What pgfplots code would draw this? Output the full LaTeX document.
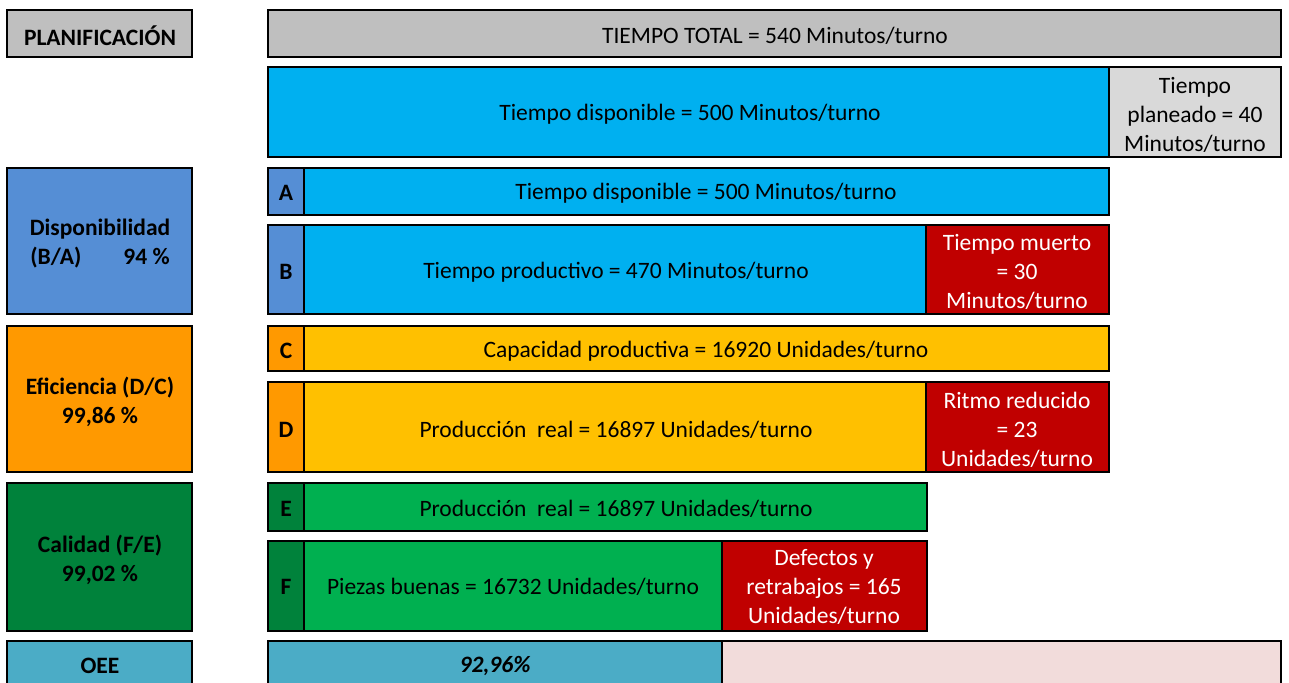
\documentclass[border=0pt]{standalone}
\usepackage{pgfplots}
\pgfplotsset{compat=1.18}
\usepackage{fontspec}
\setmainfont{Carlito}

\definecolor{grisA}{HTML}{BFBFBF}
\definecolor{grisB}{HTML}{D9D9D9}
\definecolor{celeste}{HTML}{00B0F0}
\definecolor{azulD}{HTML}{558ED5}
\definecolor{rojo}{HTML}{C00000}
\definecolor{naranja}{HTML}{FF9900}
\definecolor{ambar}{HTML}{FFC000}
\definecolor{verdeO}{HTML}{00823B}
\definecolor{verde}{HTML}{00B050}
\definecolor{oee}{HTML}{4BACC6}
\definecolor{rosa}{HTML}{F2DCDB}

\tikzset{
  t/.style={font=\fontsize{23.5}{29}\selectfont, align=center, inner sep=0pt, yshift=-2pt},
  tb/.style={t, font=\fontsize{23.5}{29}\selectfont\bfseries},
}

% caja: x1, y1, x2, y2, relleno
\newcommand{\caja}[5]{%
  \addplot[fill=#5, draw=black, line width=2.6pt, line join=miter]
    coordinates {(#1,#2) (#3,#2) (#3,#4) (#1,#4)} -- cycle;}

\begin{document}
\begin{tikzpicture}
\begin{axis}[
    scale only axis, width=1289pt, height=682pt,
    xmin=0, xmax=1289, ymin=0, ymax=682, y dir=reverse,
    hide axis, clip=true
]
% planificacion
\caja{7}{10}{192}{57}{grisA}
\caja{268}{10}{1281}{57}{grisA}
\caja{268}{67}{1109}{157}{celeste}
\caja{1109}{67}{1281}{157}{grisB}
% disponibilidad
\caja{7}{168}{192}{314}{azulD}
\caja{304}{168}{1109}{215}{celeste}
\caja{268}{168}{304}{215}{azulD}
\caja{304}{225}{926}{314}{celeste}
\caja{926}{225}{1109}{314}{rojo}
\caja{268}{225}{304}{314}{azulD}
% eficiencia
\caja{7}{326}{192}{472}{naranja}
\caja{304}{326}{1109}{371}{ambar}
\caja{268}{326}{304}{371}{naranja}
\caja{304}{382}{926}{472}{ambar}
\caja{926}{382}{1109}{472}{rojo}
\caja{268}{382}{304}{472}{naranja}
% calidad
\caja{7}{483}{192}{631}{verdeO}
\caja{304}{483}{927}{531}{verde}
\caja{268}{483}{304}{531}{verdeO}
\caja{304}{541}{722}{631}{verde}
\caja{722}{541}{927}{631}{rojo}
\caja{268}{541}{304}{631}{verdeO}
% OEE
\caja{7}{641}{192}{700}{oee}
\caja{722}{641}{1281}{700}{rosa}
\caja{268}{641}{722}{700}{oee}
\addplot[draw=black, line width=2.6pt, line join=miter]
  coordinates {(268,641) (1281,641) (1281,700)};

% textos
\node[tb] at (axis cs:100,34) {PLANIFICACIÓN};
\node[t] at (axis cs:775,34) {TIEMPO TOTAL = 540 Minutos/turno};
\node[t] at (axis cs:690,112) {Tiempo disponible = 500 Minutos/turno};
\node[t] at (axis cs:1195,113) {Tiempo\\planeado = 40\\Minutos/turno};

\node[tb] at (axis cs:100,242) {Disponibilidad\\(B/A)\hspace{42pt}94 \%};
\node[tb] at (axis cs:286,191) {A};
\node[t] at (axis cs:706,191) {Tiempo disponible = 500 Minutos/turno};
\node[tb] at (axis cs:286,270) {B};
\node[t] at (axis cs:616,270) {Tiempo productivo = 470 Minutos/turno};
\node[t, text=white] at (axis cs:1017,270) {Tiempo muerto\\= 30\\Minutos/turno};

\node[tb] at (axis cs:100,400) {Eficiencia (D/C)\\99,86 \%};
\node[tb] at (axis cs:286,349) {C};
\node[t] at (axis cs:706,349) {Capacidad productiva = 16920 Unidades/turno};
\node[tb] at (axis cs:286,428) {D};
\node[t] at (axis cs:616,428) {Producción\ \ real = 16897 Unidades/turno};
\node[t, text=white] at (axis cs:1017,428) {Ritmo reducido\\= 23\\Unidades/turno};

\node[tb] at (axis cs:100,558) {Calidad (F/E)\\99,02 \%};
\node[tb] at (axis cs:286,507) {E};
\node[t] at (axis cs:616,507) {Producción\ \ real = 16897 Unidades/turno};
\node[tb] at (axis cs:286,585) {F};
\node[t] at (axis cs:513,585) {Piezas buenas = 16732 Unidades/turno};
\node[t, text=white] at (axis cs:824,585) {Defectos y\\retrabajos = 165\\Unidades/turno};

\node[tb] at (axis cs:100,664) {OEE};
\node[tb, font=\fontsize{23.5}{29}\selectfont\bfseries\itshape] at (axis cs:495,664) {92,96\%};
\end{axis}
\pgfresetboundingbox
\path (current axis.south west) rectangle (current axis.north east);
\end{tikzpicture}
\end{document}
